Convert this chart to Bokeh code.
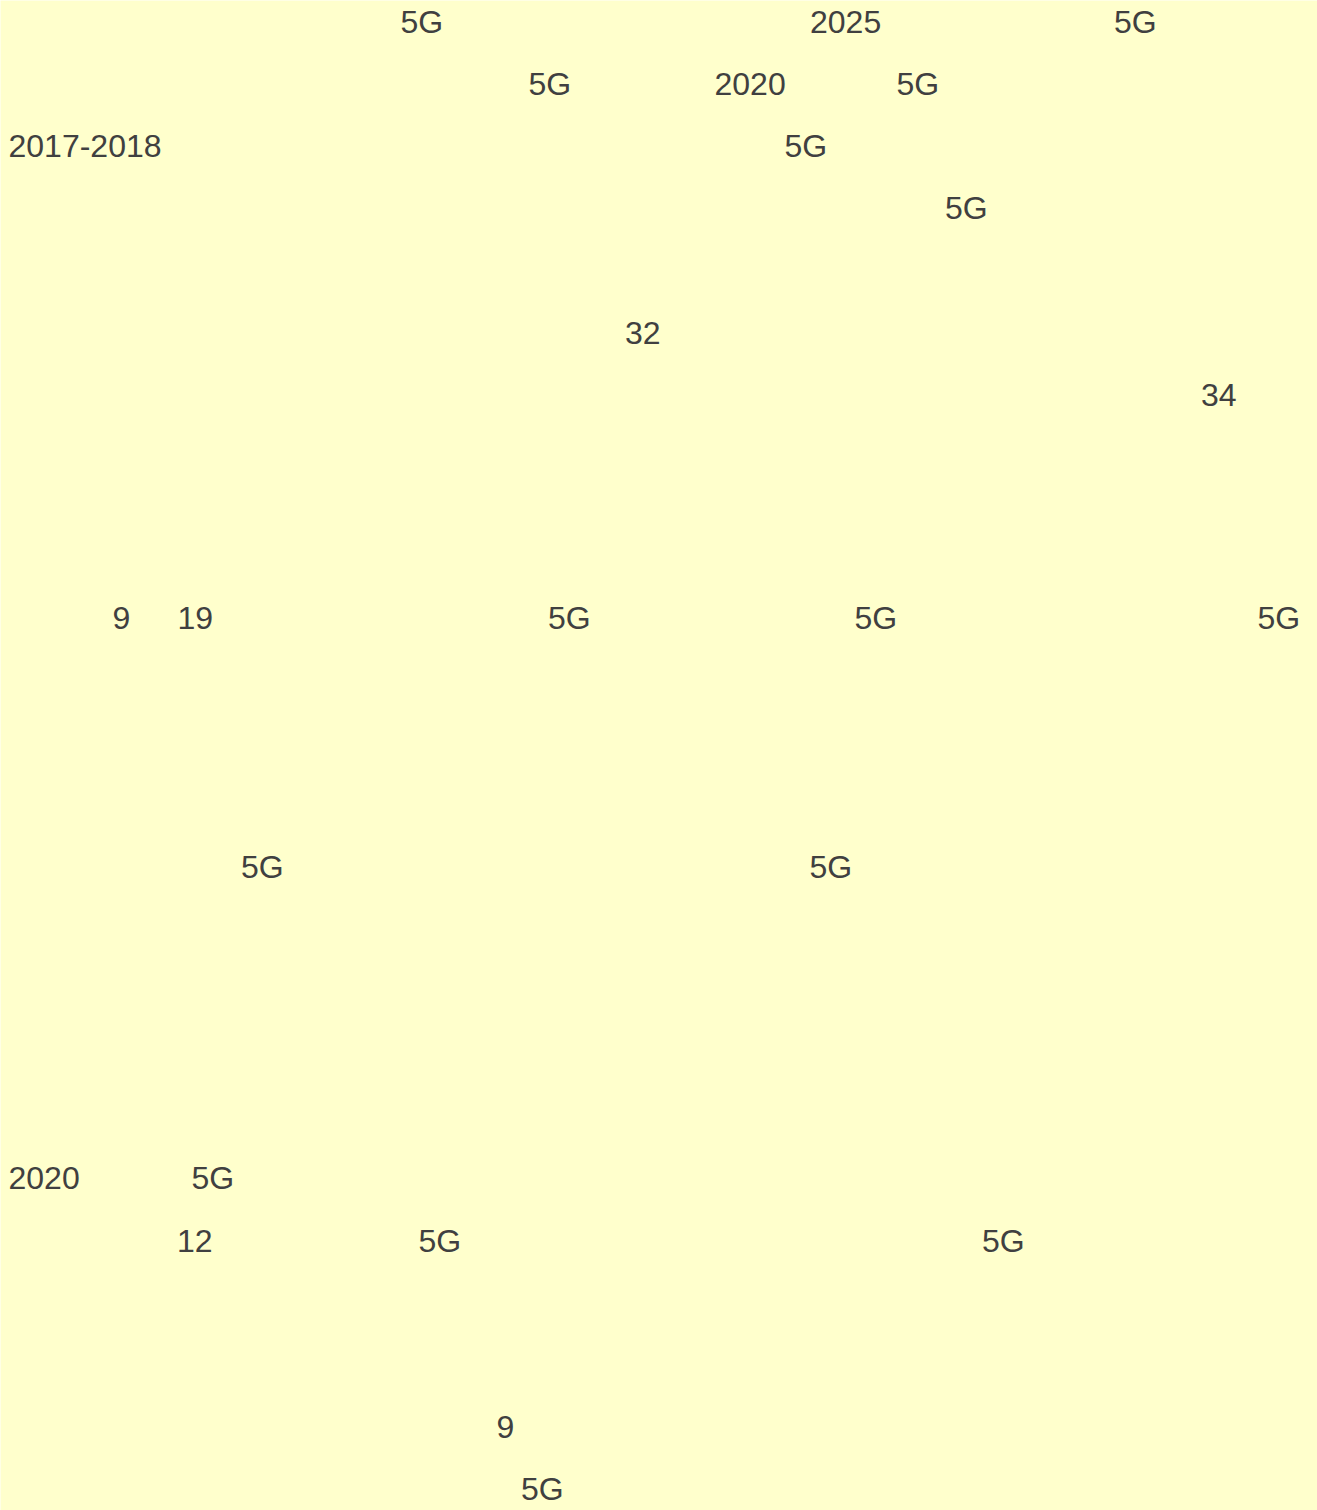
from bokeh.plotting import figure
from bokeh.models import ColumnDataSource, Range1d
from bokeh.core.properties import value
from bokeh.embed import file_html
from bokeh.resources import INLINE

# Visible texts of the reference page (page pixel coordinates: left anchor, baseline)
labels = ["5G", "2025", "5G",
          "5G", "2020", "5G",
          "2017-2018", "5G",
          "5G",
          "32",
          "34",
          "9", "19", "5G", "5G", "5G",
          "5G", "5G",
          "2020", "5G",
          "12", "5G", "5G",
          "9",
          "5G"]
x_left = [400, 809.5, 1113.5,
          528, 714, 896,
          8, 784,
          944.5,
          624.5,
          1200.5,
          112, 177, 547.5, 854, 1257,
          240.5, 809,
          8, 191,
          176.5, 418, 981.5,
          496,
          520.5]
y_base = [33.5, 33.5, 33.5,
          95.5, 95.5, 95.5,
          157.5, 157.5,
          219.5,
          344.5,
          406.5,
          629.5, 629.5, 629.5, 629.5, 629.5,
          878.5, 878.5,
          1189.5, 1189.5,
          1252.5, 1252.5, 1252.5,
          1438.5,
          1500.5]

BG = "#ffffcc"
W, H = 1317, 1510

src = ColumnDataSource(dict(x=x_left, y=y_base, t=labels))

p = figure(width=W, height=H, output_backend="svg", toolbar_location=None,
           x_range=Range1d(0, W), y_range=Range1d(H, 0),
           min_border=0, background_fill_color=BG, border_fill_color=BG,
           outline_line_color=None)
p.axis.visible = False
p.grid.visible = False

p.text(x="x", y="y", text="t", source=src,
       text_font=value("Liberation Sans"), text_font_size="32px",
       text_color="#404040", text_align="left", text_baseline="alphabetic",
       y_offset=-12)

html = file_html(p, INLINE)
html = html.replace("<body>", '<body style="background:%s;">' % BG, 1)
open("out.html", "w").write(html)
